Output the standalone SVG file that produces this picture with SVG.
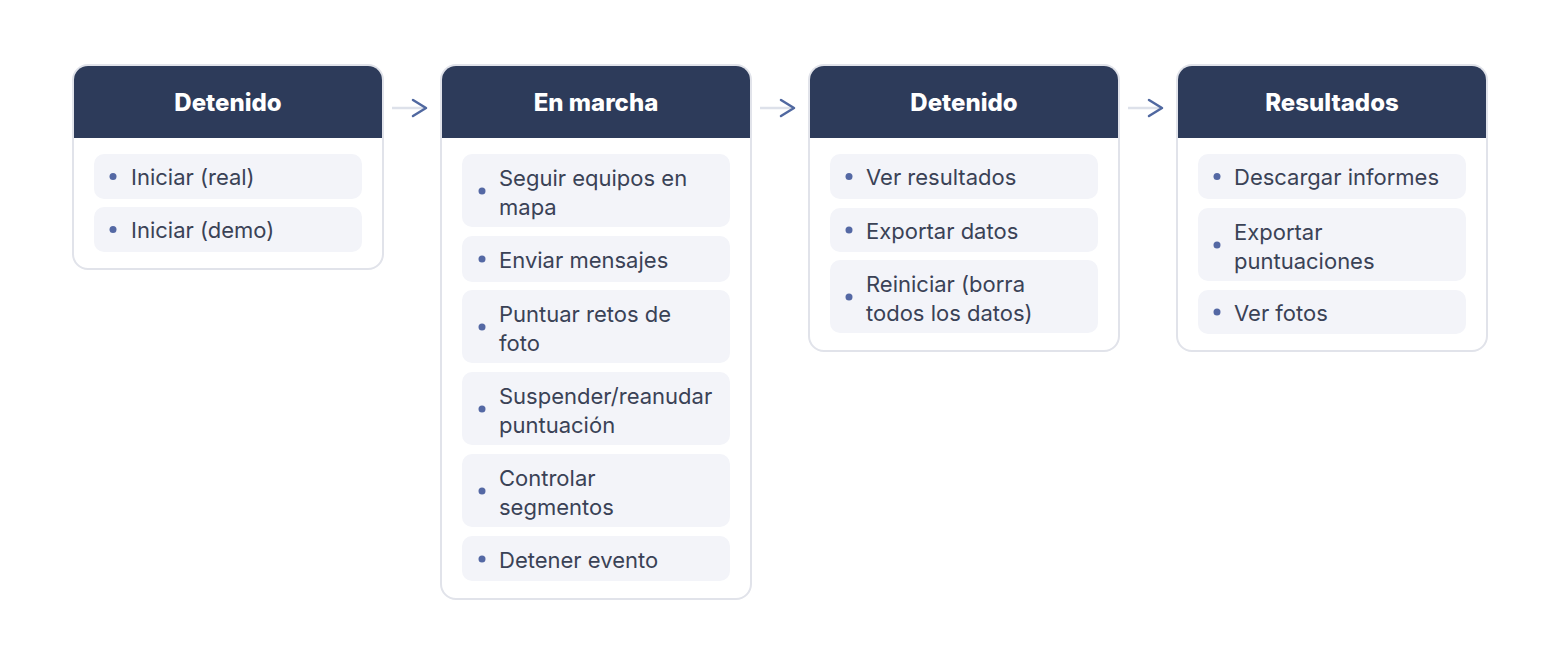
<svg xmlns="http://www.w3.org/2000/svg" width="1560" height="664" viewBox="0 0 1560 664">
<defs>
<style>
.card{fill:#ffffff;stroke:#e1e3ea;stroke-width:2}
.hdr{fill:#2d3b5a}
.ht{font-family:Inter,"Liberation Sans",sans-serif;font-weight:800;font-size:24px;fill:#ffffff;text-anchor:middle}
.item{fill:#f3f4f9}
.dot{fill:#5468a4}
.it{font-family:Inter,"Liberation Sans",sans-serif;font-size:22px;fill:#3a4256}
.ln{stroke:#dde1ea;stroke-width:2.5;fill:none}
.hd{stroke:#5068a0;stroke-width:2.5;fill:none;stroke-linecap:round;stroke-linejoin:round}
</style>
</defs>
<rect width="1560" height="664" fill="#ffffff"/>
<g id="connectors">
<line class="ln" x1="392" y1="108" x2="425" y2="108"/><polyline class="hd" points="413,100 426,108 413,116"/>
<line class="ln" x1="760" y1="108" x2="793" y2="108"/><polyline class="hd" points="781,100 794,108 781,116"/>
<line class="ln" x1="1128" y1="108" x2="1161" y2="108"/><polyline class="hd" points="1149,100 1162,108 1149,116"/>
</g>
<g id="node1">
<rect class="card" x="73" y="65" width="310" height="204" rx="15"/>
<path class="hdr" d="M74,80 a14,14 0 0 1 14,-14 h280 a14,14 0 0 1 14,14 v58 h-308 z"/>
<text class="ht" x="228" y="111">Detenido</text>
<rect class="item" x="94" y="154" width="268" height="45" rx="10"/><circle class="dot" cx="113" cy="176.5" r="3.5"/><text class="it" x="131" y="185">Iniciar (real)</text>
<rect class="item" x="94" y="207" width="268" height="45" rx="10"/><circle class="dot" cx="113" cy="229.5" r="3.5"/><text class="it" x="131" y="238">Iniciar (demo)</text>
</g>
<g id="node2">
<rect class="card" x="441" y="65" width="310" height="534" rx="15"/>
<path class="hdr" d="M442,80 a14,14 0 0 1 14,-14 h280 a14,14 0 0 1 14,14 v58 h-308 z"/>
<text class="ht" x="596" y="111">En marcha</text>
<rect class="item" x="462" y="154" width="268" height="73" rx="10"/><circle class="dot" cx="482" cy="191" r="3.5"/><text class="it" x="499" y="186">Seguir equipos en</text><text class="it" x="499" y="215">mapa</text>
<rect class="item" x="462" y="236" width="268" height="46" rx="10"/><circle class="dot" cx="482" cy="259" r="3.5"/><text class="it" x="499" y="268">Enviar mensajes</text>
<rect class="item" x="462" y="290" width="268" height="73" rx="10"/><circle class="dot" cx="482" cy="327" r="3.5"/><text class="it" x="499" y="322">Puntuar retos de</text><text class="it" x="499" y="351">foto</text>
<rect class="item" x="462" y="372" width="268" height="73" rx="10"/><circle class="dot" cx="482" cy="409" r="3.5"/><text class="it" x="499" y="404">Suspender/reanudar</text><text class="it" x="499" y="433">puntuación</text>
<rect class="item" x="462" y="454" width="268" height="73" rx="10"/><circle class="dot" cx="482" cy="491" r="3.5"/><text class="it" x="499" y="486">Controlar</text><text class="it" x="499" y="515">segmentos</text>
<rect class="item" x="462" y="536" width="268" height="45" rx="10"/><circle class="dot" cx="482" cy="559" r="3.5"/><text class="it" x="499" y="568">Detener evento</text>
</g>
<g id="node3">
<rect class="card" x="809" y="65" width="310" height="286" rx="15"/>
<path class="hdr" d="M810,80 a14,14 0 0 1 14,-14 h280 a14,14 0 0 1 14,14 v58 h-308 z"/>
<text class="ht" x="964" y="111">Detenido</text>
<rect class="item" x="830" y="154" width="268" height="45" rx="10"/><circle class="dot" cx="849" cy="176.5" r="3.5"/><text class="it" x="866" y="185">Ver resultados</text>
<rect class="item" x="830" y="208" width="268" height="44" rx="10"/><circle class="dot" cx="849" cy="230" r="3.5"/><text class="it" x="866" y="239">Exportar datos</text>
<rect class="item" x="830" y="260" width="268" height="73" rx="10"/><circle class="dot" cx="849" cy="297" r="3.5"/><text class="it" x="866" y="292">Reiniciar (borra</text><text class="it" x="866" y="321">todos los datos)</text>
</g>
<g id="node4">
<rect class="card" x="1177" y="65" width="310" height="286" rx="15"/>
<path class="hdr" d="M1178,80 a14,14 0 0 1 14,-14 h280 a14,14 0 0 1 14,14 v58 h-308 z"/>
<text class="ht" x="1332" y="111">Resultados</text>
<rect class="item" x="1198" y="154" width="268" height="45" rx="10"/><circle class="dot" cx="1217" cy="176.5" r="3.5"/><text class="it" x="1234" y="185">Descargar informes</text>
<rect class="item" x="1198" y="208" width="268" height="73" rx="10"/><circle class="dot" cx="1217" cy="245" r="3.5"/><text class="it" x="1234" y="240">Exportar</text><text class="it" x="1234" y="269">puntuaciones</text>
<rect class="item" x="1198" y="290" width="268" height="44" rx="10"/><circle class="dot" cx="1217" cy="312" r="3.5"/><text class="it" x="1234" y="321">Ver fotos</text>
</g>
</svg>
